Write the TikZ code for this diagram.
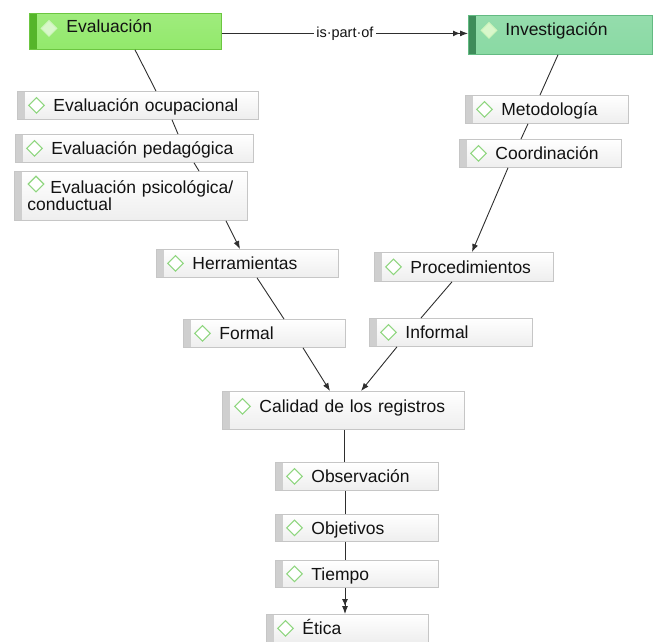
\documentclass[tikz,border=0pt]{standalone}
\usepackage{fontspec}
\setmainfont{Liberation Sans}
\usetikzlibrary{arrows.meta,shapes.geometric,shadows}

\definecolor{boxline}{HTML}{C6C6C6}
\definecolor{boxstrip}{HTML}{CFCFCF}
\definecolor{boxbot}{HTML}{EEEEEE}
\definecolor{icongreen}{HTML}{8FD67F}
\definecolor{evfill}{HTML}{92E96B}
\definecolor{evline}{HTML}{6CC641}
\definecolor{evstrip}{HTML}{55B52A}
\definecolor{invfill}{HTML}{89D9A3}
\definecolor{invline}{HTML}{63BA82}
\definecolor{invstrip}{HTML}{3E8C5A}
\definecolor{link}{HTML}{2E2E2E}
\definecolor{ink}{HTML}{121212}

\tikzset{
  strip/.style={fill=boxstrip},
  concept/.style={
    anchor=north west, inner sep=0pt, align=left, text=ink,
    font=\fontsize{17.5pt}{16.5pt}\selectfont,
    execute at begin node={\lineskiplimit=-20pt\relax},
    text height=12.5pt, text depth=0pt,
    draw=boxline, line width=0.8pt,
    top color=white, bottom color=boxbot,
    drop shadow={opacity=0.12, shadow xshift=0.8pt, shadow yshift=-1pt},
    path picture={\fill[strip] (path picture bounding box.north west)
      rectangle ([xshift=8pt]path picture bounding box.south west);}
  },
  evbox/.style={concept, draw=evline, top color=evfill!88!white,
    bottom color=evfill, strip/.style={fill=evstrip}},
  invbox/.style={concept, draw=invline, top color=invfill!90!white,
    bottom color=invfill, strip/.style={fill=invstrip}},
  icon/.style={diamond, draw=icongreen, fill=white, line width=1.1pt,
    minimum width=16pt, minimum height=16pt, inner sep=0pt},
  topicon/.style={icon, draw=white!55!evfill, fill=white!65!evfill},
  conn/.style={draw=link, line width=0.9pt},
  tip/.style={-{Latex[length=8pt,width=6pt]}},
  dtip/.style={-{Latex[length=7pt,width=6pt] Latex[length=8pt,width=6pt]}},
  linkphrase/.style={fill=white, inner sep=2pt, text=ink,
    font=\fontsize{14.5pt}{15pt}\selectfont}
}

\begin{document}
\begin{tikzpicture}[x=1pt,y=1pt]
\useasboundingbox (0,0) rectangle (653,-641);

% concepts
\node[evbox, text width=192pt, minimum height=36pt, text depth=10pt]
  (ev) at (29,-13) {\hspace*{37pt}Evaluación};
\node[invbox, text width=184pt, minimum height=39pt, text depth=12pt]
  (inv) at (468,-15) {\hspace*{37pt}Investigación};

\node[concept, text width=241pt, minimum height=28pt] (ocup) at (17,-91)
  {\hspace*{36pt}Evaluación ocupacional};
\node[concept, text width=238pt, minimum height=28pt] (ped) at (15,-134)
  {\hspace*{36pt}Evaluación pedagógica};
\node[concept, text width=233pt, minimum height=49pt, text depth=16.5pt] (psic) at (14,-171)
  {\hspace*{36pt}Evaluación psicológica/\\\hspace*{13pt}conductual};
\node[concept, text width=182pt, minimum height=28pt] (herr) at (156,-249)
  {\hspace*{36pt}Herramientas};

\node[concept, text width=163pt, minimum height=28pt] (met) at (465,-95)
  {\hspace*{36pt}Metodología};
\node[concept, text width=162pt, minimum height=28pt] (coord) at (459,-139)
  {\hspace*{36pt}Coordinación};
\node[concept, text width=179pt, minimum height=29pt] (proc) at (374,-252)
  {\hspace*{36pt}Procedimientos};

\node[concept, text width=162pt, minimum height=28pt] (formal) at (183,-319)
  {\hspace*{36pt}Formal};
\node[concept, text width=163pt, minimum height=28pt] (informal) at (369,-318)
  {\hspace*{36pt}Informal};

\node[concept, text width=242pt, minimum height=38pt, text depth=8.5pt] (calidad) at (222,-391)
  {\hspace*{37pt}Calidad de los registros};
\node[concept, text width=163pt, minimum height=28pt] (obs) at (275,-462)
  {\hspace*{36pt}Observación};
\node[concept, text width=163pt, minimum height=27pt] (obj) at (275,-514)
  {\hspace*{36pt}Objetivos};
\node[concept, text width=163pt, minimum height=27pt] (tiempo) at (275,-560)
  {\hspace*{36pt}Tiempo};
\node[concept, text width=162pt, minimum height=28pt] (etica) at (266,-614)
  {\hspace*{36pt}Ética};

% diamond icons
\node[topicon] (ev-i) at ([xshift=20pt,yshift=3pt]ev.west) {};
\node[topicon] (inv-i) at ([xshift=21pt,yshift=4.5pt]inv.west) {};
\foreach \n in {ocup,ped,herr,met,coord,proc,formal,informal,obs,obj,tiempo,etica}
  \node[icon] (\n-i) at ([xshift=19.5pt]\n.west) {};
\node[icon] (psic-i) at ([xshift=22pt,yshift=-13pt]psic.north west) {};
\node[icon] (calidad-i) at ([xshift=20.5pt,yshift=4pt]calidad.west) {};

% links
\draw[conn, dtip] ([yshift=-2pt]ev.east) --
  node[linkphrase] (lp) {is·part·of} ([yshift=1.5pt]inv.west);

\draw[conn] ([xshift=106pt]ev.south west) -- ([xshift=139pt]ocup.north west);
\draw[conn] ([xshift=155pt]ocup.south west) -- ([xshift=163pt]ped.north west);
\draw[conn] ([xshift=179pt]ped.south west) -- ([xshift=185pt]psic.north west);
\draw[conn, tip] ([xshift=212pt]psic.south west) -- ([xshift=84pt]herr.north west);

\draw[conn] ([xshift=90pt]inv.south west) -- ([xshift=75pt]met.north west);
\draw[conn] ([xshift=63pt]met.south west) -- ([xshift=62pt]coord.north west);
\draw[conn, tip] ([xshift=49pt]coord.south west) -- ([xshift=98pt]proc.north west);

\draw[conn] ([xshift=101pt]herr.south west) -- ([xshift=101pt]formal.north west);
\draw[conn, tip] ([xshift=120pt]formal.south west) -- ([xshift=108pt]calidad.north west);
\draw[conn] ([xshift=78pt]proc.south west) -- ([xshift=52pt]informal.north west);
\draw[conn, tip] ([xshift=28pt]informal.south west) -- ([xshift=139pt]calidad.north west);

\draw[conn] ([xshift=122pt]calidad.south west) -- ([xshift=69pt]obs.north west);
\draw[conn] ([xshift=70pt]obs.south west) -- ([xshift=70pt]obj.north west);
\draw[conn] ([xshift=70pt]obj.south west) -- ([xshift=70pt]tiempo.north west);
\draw[conn, dtip] ([xshift=70pt]tiempo.south west) -- ([xshift=79pt]etica.north west);
\end{tikzpicture}
\end{document}
